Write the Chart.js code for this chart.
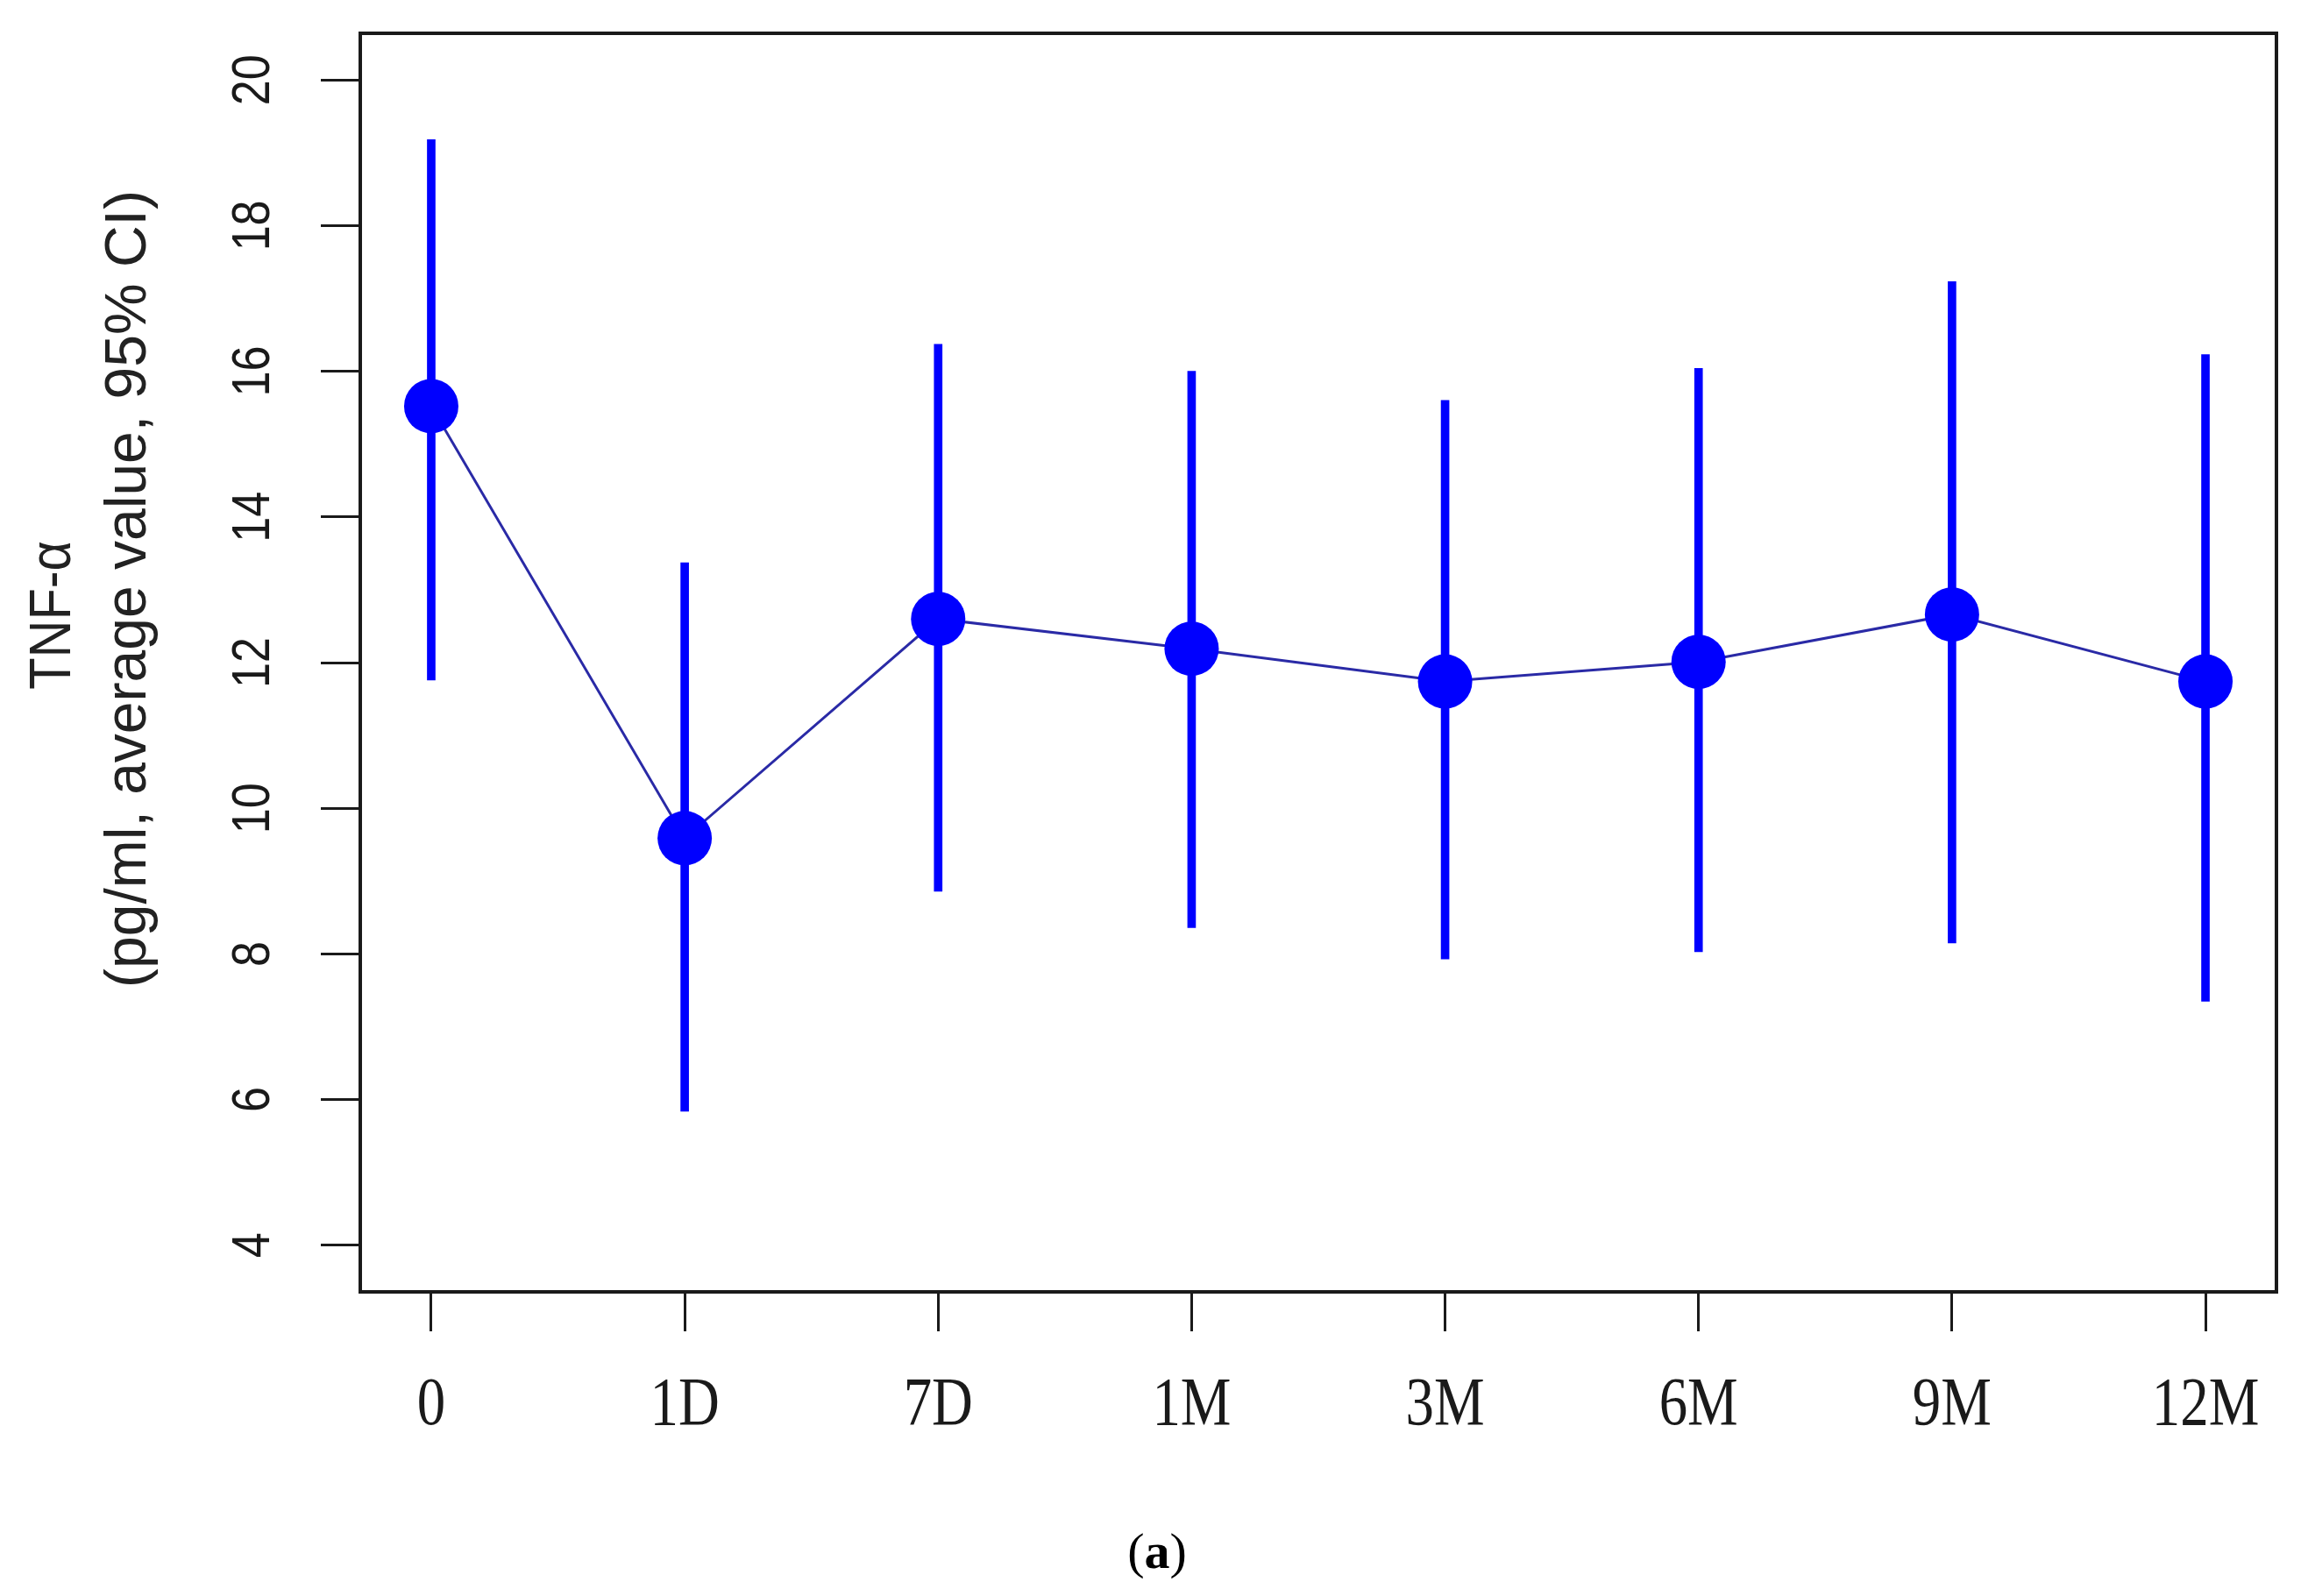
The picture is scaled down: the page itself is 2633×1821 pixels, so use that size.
<!DOCTYPE html>
<html>
<head>
<meta charset="utf-8">
<title>TNF-α</title>
<script src="https://cdn.jsdelivr.net/npm/chart.js@4/dist/chart.umd.min.js"></script>
<style>
    html, body { margin: 0; padding: 0; background: #fff; }
    canvas { display: block; }
</style>
</head>
<body>
<canvas id="chart-tnf" width="2633" height="1821"></canvas>
<script>
// time points and TNF-α values (mean, 95% CI)
const timeLabels = ['0', '1D', '7D', '1M', '3M', '6M', '9M', '12M'];
const meanValues = [15.52, 9.59, 12.60, 12.19, 11.74, 12.01, 12.66, 11.74];
const ciLower = [11.76, 5.84, 8.86, 8.36, 7.93, 8.03, 8.15, 7.35];
const ciUpper = [19.18, 13.37, 16.37, 16.00, 15.60, 16.04, 17.23, 16.23];
const yTickValues = [4, 6, 8, 10, 12, 14, 16, 18, 20];
const yTitleLines = ['TNF-α', '(pg/ml, average value, 95% CI)'];
const caption = 'a';

const blue = '#0000ff';
const ink = '#1a1a1a';

// R-style frame, rotated y labels, serif x labels, caption
const rStylePlugin = {
    id: 'rStyle',
    afterDraw(chart) {
        const ctx = chart.ctx;
        const area = chart.chartArea;
        const xs = chart.scales.x;
        const ys = chart.scales.y;
        ctx.save();

        ctx.strokeStyle = ink;
        ctx.lineWidth = 4;
        ctx.strokeRect(area.left, area.top, area.right - area.left, area.bottom - area.top);

        ctx.fillStyle = ink;
        ctx.textAlign = 'center';
        ctx.textBaseline = 'middle';

        // y tick labels, read bottom to top
        ctx.font = '62px "Liberation Sans", Arial, sans-serif';
        ys.ticks.forEach(t => {
            const y = ys.getPixelForValue(t.value);
            ctx.save();
            ctx.translate(290, y);
            ctx.rotate(-Math.PI / 2);
            ctx.scale(0.84, 1);
            ctx.fillText(String(t.value), 0, 0);
            ctx.restore();
        });

        // x tick labels
        ctx.font = '72px "Liberation Serif", "Times New Roman", serif';
        xs.ticks.forEach(t => {
            const x = xs.getPixelForValue(t.value);
            ctx.save();
            ctx.translate(x, 1605);
            ctx.scale(0.9, 1.08);
            ctx.fillText(timeLabels[t.value], 0, 0);
            ctx.restore();
        });

        // y axis title, two lines
        ctx.font = '66px "Liberation Sans", Arial, sans-serif';
        ctx.fillStyle = '#222';
        [[62, 702], [148, 672]].forEach(([x, y], i) => {
            ctx.save();
            ctx.translate(x, y);
            ctx.rotate(-Math.PI / 2);
            if (i === 0) ctx.scale(0.9, 1);
            ctx.fillText(yTitleLines[i], 0, 0);
            ctx.restore();
        });

        // caption (a) with bold letter
        ctx.fillStyle = '#000';
        ctx.textAlign = 'left';
        ctx.textBaseline = 'alphabetic';
        const regular = '58px "Liberation Serif", serif';
        const bold = 'bold 58px "Liberation Serif", serif';
        ctx.font = regular;
        const wp = ctx.measureText('(').width;
        const wq = ctx.measureText(')').width;
        ctx.font = bold;
        const wa = ctx.measureText(caption).width;
        let cx = 1320 - (wp + wa + wq) / 2;
        const by = 1789;
        ctx.font = regular;
        ctx.fillText('(', cx, by);
        cx += wp;
        ctx.font = bold;
        ctx.fillText(caption, cx, by);
        cx += wa;
        ctx.font = regular;
        ctx.fillText(')', cx, by);

        ctx.restore();
    }
};

const ctxTnf = document.getElementById('chart-tnf').getContext('2d');
new Chart(ctxTnf, {
    type: 'line',
    data: {
        datasets: [
            {
                type: 'bar',
                label: '95% CI',
                data: timeLabels.map((_, i) => ({ x: i, y: [ciLower[i], ciUpper[i]] })),
                backgroundColor: blue,
                borderWidth: 0,
                barThickness: 9,
                order: 2
            },
            {
                type: 'line',
                label: 'Average',
                data: meanValues.map((v, i) => ({ x: i, y: v })),
                borderColor: '#2a2aa6',
                borderWidth: 3,
                tension: 0,
                pointRadius: 31,
                pointBackgroundColor: blue,
                pointBorderWidth: 0,
                order: 1
            }
        ]
    },
    options: {
        responsive: false,
        animation: false,
        events: [],
        layout: { padding: { top: 38, right: 36, left: 0, bottom: 0 } },
        plugins: {
            legend: { display: false },
            tooltip: { enabled: false }
        },
        scales: {
            x: {
                type: 'linear',
                min: -0.28,
                max: 7.28,
                offset: false,
                afterBuildTicks: s => { s.ticks = timeLabels.map((_, i) => ({ value: i })); },
                afterFit: s => { s.height = 347; },
                ticks: { display: false },
                border: { display: false },
                grid: {
                    offset: false,
                    drawOnChartArea: false,
                    drawTicks: true,
                    tickLength: 45,
                    tickWidth: 3,
                    tickColor: ink
                }
            },
            y: {
                type: 'linear',
                min: 3.36,
                max: 20.64,
                beginAtZero: false,
                afterBuildTicks: s => { s.ticks = yTickValues.map(v => ({ value: v })); },
                afterFit: s => { s.width = 411; },
                ticks: { display: false },
                border: { display: false },
                grid: {
                    drawOnChartArea: false,
                    drawTicks: true,
                    tickLength: 45,
                    tickWidth: 3,
                    tickColor: ink
                }
            }
        }
    },
    plugins: [rStylePlugin]
});
</script>
</body>
</html>
